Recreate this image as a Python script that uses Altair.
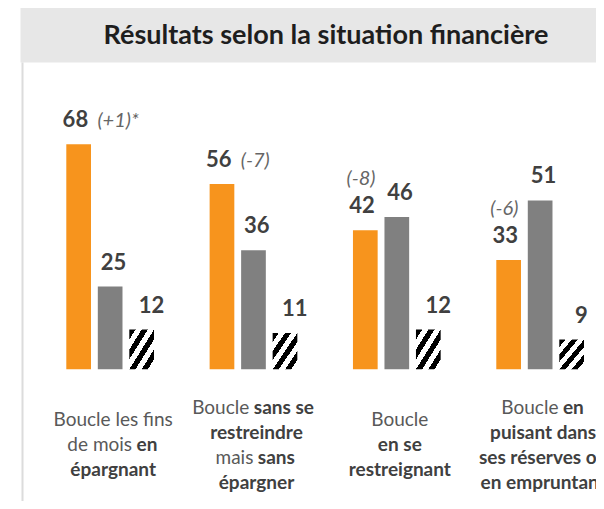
import altair as alt
import pandas as pd

# ---------------- data ----------------
TITLE = "Résultats selon la situation financière"
groups = [
    "Boucle les fins de mois en épargnant",
    "Boucle sans se restreindre mais sans épargner",
    "Boucle en se restreignant",
    "Boucle en puisant dans ses réserves ou en empruntant",
]
series = ["Série 1", "Série 2", "Série 3"]
values_s1 = [68, 56, 42, 33]
values_s2 = [25, 36, 46, 51]
values_s3 = [12, 11, 12, 9]
annotations = ["(+1)*", "(-7)", "(-8)", "(-6)"]
annotation_place = ["right", "right", "above", "above"]
# category labels: lines of (text, bold) segments
label_lines = [
    [[("Boucle les fins", False)], [("de mois", False), ("en", True)], [("épargnant", True)]],
    [[("Boucle", False), ("sans se", True)], [("restreindre", True)],
     [("mais", False), ("sans", True)], [("épargner", True)]],
    [[("Boucle", False)], [("en se", True)], [("restreignant", True)]],
    [[("Boucle", False), ("en", True)], [("puisant dans", True)],
     [("ses réserves ou", True)], [("en empruntant", True)]],
]

# ---------------- style / layout ----------------
W, H = 588, 493
FONT = "Lato"
ORANGE = "#F7941D"
GREY = "#808080"
STEP = 143.33                      # group step in px
X_PAD_OUTER = (W / STEP - len(groups)) / 2
XO_PAD_INNER, XO_PAD_OUTER = 0.216, 0.883
XO_STEP = STEP / (3 - XO_PAD_INNER + 2 * XO_PAD_OUTER)
BARS_SPAN = XO_STEP * (3 - XO_PAD_INNER)
GROUP0_START = W - STEP * len(groups)          # with align = 1
XO_START = 58.3 - GROUP0_START
XO_ALIGN = XO_START / (STEP - BARS_SPAN)
BARS_CENTER = XO_START + BARS_SPAN / 2
Y_RANGE = [361.3, 30.3]
LABEL_SIZE = 19
LINE_H = 25
LABEL_CENTER = 443
LABEL_SHIFT = 3
GAP = 4.5


def text_w(s, bold, size):
    w = 0.0
    for ch in s:
        if ch == " ":
            w += 0.19
        elif ch in "ilj":
            w += 0.25 if bold else 0.23
        elif ch in "frt":
            w += 0.36 if bold else 0.33
        elif ch in "mw":
            w += 0.85 if bold else 0.82
        elif ch.isupper():
            w += 0.64 if bold else 0.63
        else:
            w += 0.545 if bold else 0.52
    return w * size


rows = []
for g, s1, s2, s3 in zip(groups, values_s1, values_s2, values_s3):
    for s, v in zip(series, [s1, s2, s3]):
        rows.append({"group": g, "series": s, "value": v})
bars_df = pd.DataFrame(rows)

ann_df = pd.DataFrame({
    "group": groups,
    "series": [series[0]] * len(groups),
    "value": values_s1,
    "text": annotations,
    "place": annotation_place,
})

lab_rows = []
for g, lines in zip(groups, label_lines):
    n = len(lines)
    for i, segs in enumerate(lines):
        ly = LABEL_CENTER + (i - (n - 1) / 2) * LINE_H
        base = BARS_CENTER + LABEL_SHIFT
        if len(segs) == 1:
            t, b = segs[0]
            lab_rows.append({"group": g, "text": t, "bold": b, "kind": "center",
                             "off": base, "ly": ly})
        else:
            (t1, b1), (t2, b2) = segs
            w1 = text_w(t1, b1, LABEL_SIZE)
            w2 = text_w(t2, b2, LABEL_SIZE)
            total = w1 + GAP + w2
            end1 = -total / 2 + w1
            lab_rows.append({"group": g, "text": t1, "bold": b1, "kind": "right",
                             "off": base + end1, "ly": ly})
            lab_rows.append({"group": g, "text": t2, "bold": b2, "kind": "left",
                             "off": base + end1 + GAP, "ly": ly})
lab_df = pd.DataFrame(lab_rows)

x_enc = alt.X("group:N", scale=alt.Scale(domain=groups, paddingInner=0,
                                         paddingOuter=X_PAD_OUTER, align=1), axis=None)
xo_enc = alt.XOffset("series:N", scale=alt.Scale(domain=series, paddingInner=XO_PAD_INNER,
                                                   paddingOuter=XO_PAD_OUTER, align=XO_ALIGN))
y_enc = alt.Y("value:Q", scale=alt.Scale(domain=[0, 100], range=Y_RANGE, nice=False), axis=None)

one = pd.DataFrame({"title": [TITLE]})

band = alt.Chart(one).mark_rect(color="#E7E7E7").encode(
    x=alt.value(12.5), x2=alt.value(W), y=alt.value(0), y2=alt.value(54.5))
left_line = alt.Chart(one).mark_rule(color="#DCDCDC", strokeWidth=2).encode(
    x=alt.value(14.5), y=alt.value(54.5), y2=alt.value(H))
title = alt.Chart(one).mark_text(font=FONT, fontSize=27, fontWeight="bold",
                                 color="#1E1E1E", align="center", baseline="alphabetic").encode(
    x=alt.value(318), y=alt.value(36), text="title:N")

bars = alt.Chart(bars_df).transform_filter(alt.datum.series != series[2]).mark_bar().encode(
    x=x_enc, xOffset=xo_enc, y=y_enc,
    color=alt.Color("series:N", scale=alt.Scale(domain=series[:2], range=[ORANGE, GREY]),
                    legend=None))

N = 4
stops = []
for k in range(N):
    a = k / N
    b = (k + 0.5) / N
    stops += [alt.GradientStop(color="#ffffff", offset=a),
              alt.GradientStop(color="#ffffff", offset=a + 0.0001),
              alt.GradientStop(color="#000000", offset=a + 0.0002),
              alt.GradientStop(color="#000000", offset=b),
              alt.GradientStop(color="#ffffff", offset=b + 0.0001)]
stops.append(alt.GradientStop(color="#ffffff", offset=1))
hatch = alt.LinearGradient(gradient="linear", stops=stops, x1=0, y1=0, x2=1, y2=1)

hatched = alt.Chart(bars_df).transform_filter(alt.datum.series == series[2]).mark_bar(
    fill=hatch).encode(x=x_enc, xOffset=xo_enc, y=y_enc)

values = alt.Chart(bars_df).mark_text(font=FONT, fontSize=22, fontWeight="bold",
                                      color="#404040", dy=-17, baseline="alphabetic").encode(
    x=x_enc, xOffset=xo_enc, y=y_enc, text="value:Q")

ann_right = alt.Chart(ann_df).transform_filter(alt.datum.place == "right").mark_text(
    font=FONT, fontSize=20, fontStyle="italic", color="#666666", align="left",
    baseline="alphabetic", dx=22, dy=-17).encode(
    x=x_enc, xOffset=xo_enc, y=y_enc, text="text:N")
ann_above = alt.Chart(ann_df).transform_filter(alt.datum.place == "above").mark_text(
    font=FONT, fontSize=20, fontStyle="italic", color="#666666", align="center",
    baseline="alphabetic", dx=-1, dy=-45).encode(
    x=x_enc, xOffset=xo_enc, y=y_enc, text="text:N")


def lab_layer(kind, bold, align):
    return alt.Chart(lab_df).transform_filter(
        (alt.datum.kind == kind) & (alt.datum.bold == bold)).mark_text(
        font=FONT, fontSize=LABEL_SIZE, fontWeight="bold" if bold else "normal",
        color="#404040" if bold else "#595959", align=align, baseline="alphabetic").encode(
        x=x_enc,
        xOffset=alt.XOffset("off:Q", scale=None),
        y=alt.Y("ly:Q", scale=None, axis=None),
        text="text:N")


labels = [lab_layer("center", False, "center"), lab_layer("center", True, "center"),
          lab_layer("right", False, "right"), lab_layer("left", True, "left")]

chart = alt.layer(band, left_line, title, bars, hatched, values, ann_right, ann_above,
                  *labels).resolve_scale(
    xOffset="independent", y="independent", color="independent"
).properties(
    width=W, height=H, autosize=alt.AutoSizeParams(type="none"), padding=0,
    background="#FFFFFF"
).configure_view(stroke=None)

chart.save("out.html", embed_options={"renderer": "svg", "actions": False})
